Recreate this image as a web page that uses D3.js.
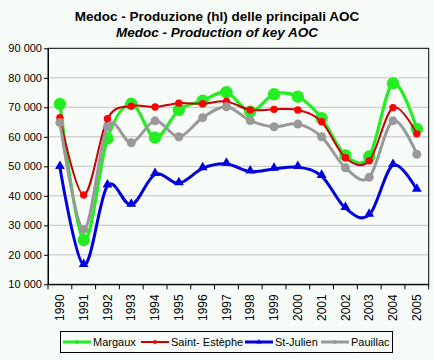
<!DOCTYPE html>
<html><head><meta charset="utf-8">
<script src="https://cdn.jsdelivr.net/npm/d3@7"></script>
<style>body{margin:0;background:#fff;}svg{display:block;font-family:Arial,"Liberation Sans",sans-serif;}</style>
</head><body><svg id="c" width="434" height="360"></svg>
<script>
const years = ["1990","1991","1992","1993","1994","1995","1996","1997","1998","1999","2000","2001","2002","2003","2004","2005"];
const margaux = [71100,25000,59400,71200,59700,69100,72200,75100,68500,74400,73600,66300,53700,53300,78100,62700];
const saintEstephe = [66500,40300,66100,70400,70100,71400,71200,72000,69100,69300,69100,65100,52900,51900,69900,61000];
const stJulien = [49700,16500,43400,36900,47300,44200,49300,50800,48200,49100,49700,46700,35800,33500,50400,42000];
const pauillac = [64800,28600,63400,58000,65400,60000,66500,70200,65500,63400,64300,60000,49500,46300,65400,54100];
const yTicks = [10000,20000,30000,40000,50000,60000,70000,80000,90000];
const seriesNames = ["Margaux","Saint- Estèphe","St-Julien","Pauillac"];

const svg = d3.select("#c");
svg.append("rect").attr("width",434).attr("height",360).attr("fill","#f8fcf8");
const L=48, R=428.7, T=48.3, B=284.3;
const x = d3.scaleBand().domain(years).range([L,R]);
const y = d3.scaleLinear().domain([10000,90000]).range([B,T]);
const fmt = v => d3.format(",")(v).replace(/,/g," ");

svg.append("g").selectAll("line").data(yTicks.slice(1,-1)).join("line")
  .attr("x1",L).attr("x2",R).attr("y1",d=>y(d)).attr("y2",d=>y(d))
  .attr("stroke","#c0c0c0").attr("stroke-width",1);
svg.append("rect").attr("x",L).attr("y",T).attr("width",R-L).attr("height",B-T)
  .attr("fill","none").attr("stroke","#000").attr("stroke-width",1);

const ya = svg.append("g").attr("transform",`translate(${L},0)`)
  .call(d3.axisLeft(y).tickValues(yTicks).tickFormat(fmt).tickSize(4).tickSizeOuter(0));
ya.select(".domain").attr("stroke","#000");
ya.selectAll("text").attr("font-size","11px").attr("fill","#000").attr("x",-6);
const xa = svg.append("g").attr("transform",`translate(0,${B})`)
  .call(d3.axisBottom(x).tickSize(0).tickSizeOuter(0));
xa.select(".domain").attr("stroke","#000");
xa.selectAll("text").attr("font-size","12px").attr("fill","#000")
  .attr("transform","rotate(-90)")
  .attr("text-anchor","end").attr("x",-10).attr("y",0).attr("dy","0.35em");
svg.append("g").selectAll("line").data(years.concat(["end"])).join("line")
  .attr("x1",(d,i)=>L+i*x.step()).attr("x2",(d,i)=>L+i*x.step())
  .attr("y1",B).attr("y2",B+5).attr("stroke","#000");

const cx = i => x(years[i]) + x.bandwidth()/2;
const line = d3.line().x((d,i)=>cx(i)).y(d=>y(d)).curve(d3.curveCatmullRom.alpha(0));
const g = svg.append("g");
const tri = d3.symbol().type(d3.symbolTriangle).size(42);

function drawSeries(vals, color, mcolor, lw, mtype, msize){
  g.append("path").attr("d",line(vals)).attr("fill","none").attr("stroke",color).attr("stroke-width",lw);
  if(mtype==="circle"){
    g.append("g").selectAll("circle").data(vals).join("circle")
      .attr("cx",(d,i)=>cx(i)).attr("cy",d=>y(d)).attr("r",msize).attr("fill",mcolor);
  } else {
    g.append("g").selectAll("path").data(vals).join("path")
      .attr("d",tri).attr("transform",(d,i)=>`translate(${cx(i)},${y(d)-1})`).attr("fill",mcolor);
  }
}
drawSeries(margaux,"#22ee22","#22ee22",3.2,"circle",6.2);
drawSeries(saintEstephe,"#cc0000","#ff0000",2,"circle",3.7);
drawSeries(stJulien,"#0000dd","#0000dd",3,"tri",0);
drawSeries(pauillac,"#999999","#999999",3,"circle",4.5);

svg.append("text").attr("x",217).attr("y",21).attr("text-anchor","middle")
  .attr("font-size","13.5px").attr("font-weight","bold").text("Medoc - Produzione (hl) delle principali AOC");
svg.append("text").attr("x",217).attr("y",36.5).attr("text-anchor","middle")
  .attr("font-size","13.5px").attr("font-weight","bold").attr("font-style","italic").text("Medoc - Production of key AOC");

svg.append("rect").attr("x",60.5).attr("y",331.5).attr("width",332).attr("height",21)
  .attr("fill","#f8fcf8").attr("stroke","#000");
const legItems = [
  {n:seriesNames[0], c:"#22ee22", m:"#22ee22", x0:63, lw:3, t:"c", r:2},
  {n:seriesNames[1], c:"#cc0000", m:"#ff0000", x0:141, lw:2, t:"c", r:2},
  {n:seriesNames[2], c:"#0000dd", m:"#0000dd", x0:245, lw:3, t:"t", r:2},
  {n:seriesNames[3], c:"#999999", m:"#999999", x0:321, lw:3, t:"c", r:2}
];
const ly = 342;
legItems.forEach(it=>{
  svg.append("line").attr("x1",it.x0).attr("x2",it.x0+28).attr("y1",ly).attr("y2",ly)
    .attr("stroke",it.c).attr("stroke-width",it.lw);
  if(it.t==="c") svg.append("circle").attr("cx",it.x0+14).attr("cy",ly).attr("r",it.r).attr("fill",it.m);
  else svg.append("path").attr("d",d3.symbol().type(d3.symbolTriangle).size(12)).attr("transform",`translate(${it.x0+14},${ly})`).attr("fill",it.m);
  svg.append("text").attr("x",it.x0+30).attr("y",ly).attr("dy","0.35em")
    .attr("font-size","11px").attr("fill","#000").text(it.n);
});
</script></body></html>
